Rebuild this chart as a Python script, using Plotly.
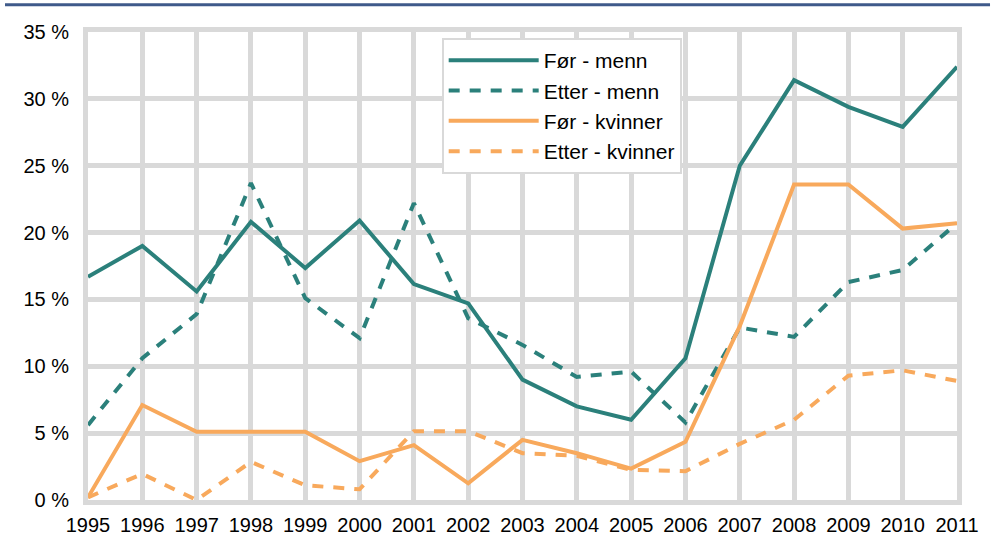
import plotly.graph_objects as go

years = list(range(1995, 2012))

for_menn = [16.7, 19.0, 15.6, 20.8, 17.35, 20.9, 16.15, 14.7, 9.0, 7.0, 6.0,
            10.6, 25.0, 31.4, 29.4, 27.9, 32.4]
etter_menn = [5.6, 10.6, 13.9, 23.7, 15.1, 12.1, 22.2, 13.6, 11.6, 9.2, 9.6,
              5.8, 12.9, 12.2, 16.3, 17.2, 20.7]
for_kvinner = [0.2, 7.1, 5.1, 5.1, 5.1, 2.9, 4.1, 1.25, 4.5, 3.5, 2.35,
               4.35, 13.0, 23.6, 23.6, 20.3, 20.7]
etter_kvinner = [0.2, 1.95, 0.0, 2.85, 1.1, 0.8, 5.15, 5.15, 3.5, 3.3, 2.25,
                 2.15, 4.2, 6.0, 9.3, 9.7, 8.9]

names = ["Før - menn", "Etter - menn", "Før - kvinner", "Etter - kvinner"]
y_ticks = [0, 5, 10, 15, 20, 25, 30, 35]

TEAL = "#2b807b"
ORANGE = "#f8a95c"
GRID = "#d9d9d9"

fig = go.Figure()
series = [
    (for_menn, TEAL, "solid"),
    (etter_menn, TEAL, "11px,10px"),
    (for_kvinner, ORANGE, "solid"),
    (etter_kvinner, ORANGE, "11px,10px"),
]
for name, (vals, color, dash) in zip(names, series):
    fig.add_trace(go.Scatter(
        x=years, y=vals, name=name, mode="lines",
        line=dict(color=color, width=4, dash=dash),
    ))

fig.update_layout(
    width=995, height=538,
    margin=dict(l=88, r=38, t=32, b=38, autoexpand=False),
    paper_bgcolor="white",
    plot_bgcolor="white",
    font=dict(family="Liberation Sans, Arial, sans-serif", size=20, color="black"),
    legend=dict(
        x=0.407, y=0.987, xanchor="left", yanchor="top",
        bgcolor="white", bordercolor=GRID, borderwidth=2,
        font=dict(size=21), tracegroupgap=0, itemwidth=90,
    ),
    shapes=[dict(
        type="line", xref="paper", yref="paper",
        x0=-0.0955, x1=1.038, y0=1.058, y1=1.058,
        line=dict(color="#3f5a8a", width=3),
    )],
)

fig.update_xaxes(
    range=[1995, 2011], tickvals=years, ticktext=[str(y) for y in years],
    showgrid=True, gridcolor=GRID, gridwidth=5,
    showline=True, linecolor=GRID, linewidth=5, mirror=True,
    zeroline=False, ticks="", tickfont=dict(size=20), ticklabelstandoff=3,
)
fig.update_yaxes(
    range=[0, 35], tickvals=y_ticks, ticktext=[f"{v} %" for v in y_ticks],
    showgrid=True, gridcolor=GRID, gridwidth=5,
    showline=True, linecolor=GRID, linewidth=5, mirror=True,
    zeroline=False, ticks="", tickfont=dict(size=20), ticklabelstandoff=10,
)

fig.write_html("out.html", config={"displayModeBar": False},
               post_script="document.body.style.margin='0';")
